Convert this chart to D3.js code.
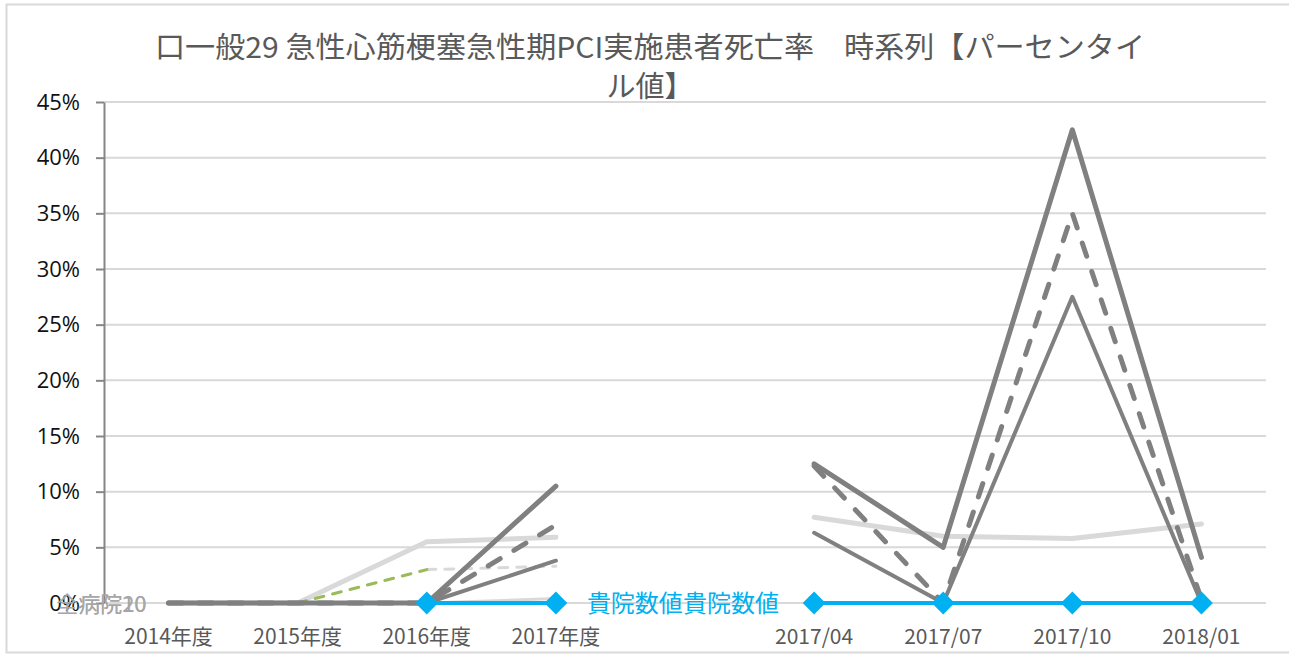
<!DOCTYPE html>
<html><head><meta charset="utf-8">
<script src="https://cdn.jsdelivr.net/npm/d3@7/dist/d3.min.js"></script>
<style>body{margin:0;background:#fff;}svg{display:block;}</style>
</head><body>
<svg id="chart" width="1289" height="655"></svg>
<script>
const titleLines = ["口一般29 急性心筋梗塞急性期PCI実施患者死亡率\u3000時系列【パーセンタイ", "ル値】"];
const categories = ["2014年度","2015年度","2016年度","2017年度","","2017/04","2017/07","2017/10","2018/01"];
const yTicks = [0,5,10,15,20,25,30,35,40,45];
// values in percent; null = no point
const allHospital = [0, 0, 5.5, 5.9, null, 7.7, 6.0, 5.8, 7.1];
const allHospitalLow = [null, null, 0, 0.4, null, null, null, null, null];
const greenDashed = [null, 0, 3.0, null, null, null, null, null, null];
const lightDashed = [null, null, 3.0, 3.3, null, null, null, null, null];
const p90 = [0, 0, 0, 10.5, null, 12.5, 5.0, 42.5, 4.1];
const p50 = [0, 0, 0, 7.0, null, 12.3, 0, 35.0, 0.3];
const p10 = [0, 0, 0, 3.8, null, 6.3, 0, 27.5, 0];
const ownHospital = [null, null, 0, 0, null, 0, 0, 0, 0];
const seriesLabels = ["全病院20", "病院10"];
const ownLabel = "貴院数値";

const svg = d3.select("#chart");
const W = 1289, H = 655;
const plot = {left: 104, right: 1266, top: 102, bottom: 603};
const jp = "'Noto Sans CJK JP','Noto Sans',sans-serif";

// outer frame
svg.append("rect").attr("x", 6.5).attr("y", 4.5).attr("width", W).attr("height", 648)
  .attr("fill", "#fff").attr("stroke", "#d9d9d9").attr("stroke-width", 2);

const x = d3.scaleBand().domain(categories.map((c,i)=>i)).range([plot.left, plot.right]);
const cx = i => x(i) + x.bandwidth()/2;
const y = d3.scaleLinear().domain([0,45]).range([plot.bottom, plot.top]);

// gridlines
svg.append("g").selectAll("line").data(yTicks).join("line")
  .attr("x1", plot.left).attr("x2", plot.right)
  .attr("y1", d=>y(d)).attr("y2", d=>y(d))
  .attr("stroke", "#d9d9d9").attr("stroke-width", 2);

// y axis
const yAxis = d3.axisLeft(y).tickValues(yTicks).tickFormat(d=>d+"%").tickSizeInner(8).tickSizeOuter(0).tickPadding(16);
const ga = svg.append("g").attr("transform", `translate(${plot.left},0)`).call(yAxis);
ga.select(".domain").attr("stroke", "#868686").attr("stroke-width", 2);
ga.selectAll(".tick line").attr("stroke", "#868686").attr("stroke-width", 2);
ga.selectAll(".tick text").attr("font-family", "'Open Sans','Noto Sans',sans-serif").attr("font-size", 22).attr("fill", "#111");

// x labels
svg.append("g").selectAll("text").data(categories).join("text")
  .attr("x", (d,i)=>cx(i)).attr("y", 644)
  .attr("text-anchor", "middle").attr("font-family", jp).attr("font-size", 21).attr("fill", "#595959")
  .text(d=>d);

const line = d3.line().defined(d=>d!==null).x((d,i)=>cx(i)).y(d=>y(d));
function drawLine(data, color, width, dash) {
  const p = svg.append("path").datum(data).attr("d", line)
    .attr("fill", "none").attr("stroke", color).attr("stroke-width", width)
    .attr("stroke-linecap", "round").attr("stroke-linejoin", "round");
  if (dash) p.attr("stroke-dasharray", dash);
}
drawLine(allHospital, "#d9d9d9", 5);
drawLine(allHospitalLow, "#d9d9d9", 3);
drawLine(lightDashed, "#d9d9d9", 3, "9,9");
drawLine(greenDashed, "#9bbb59", 3, "9,9");
drawLine(p10, "#808080", 4);
drawLine(p50, "#808080", 5, "14,16");
drawLine(p90, "#808080", 5);

// own hospital
drawLine(ownHospital, "#00b0f0", 4);
const diamond = d3.symbol().type(d3.symbolSquare).size(260);
svg.append("g").selectAll("path").data(ownHospital.map((v,i)=>({v,i})).filter(d=>d.v!==null)).join("path")
  .attr("d", diamond).attr("fill", "#00b0f0")
  .attr("transform", d=>`translate(${cx(d.i)},${y(d.v)}) rotate(45)`);

// series labels
svg.append("g").selectAll("text").data(seriesLabels).join("text")
  .attr("x", cx(0) - 22).attr("y", y(0) + 9).attr("text-anchor", "end")
  .attr("font-family", jp).attr("font-size", 22).attr("fill", "#a6a6a6").text(d=>d);
svg.append("g").selectAll("text").data([ownLabel, ownLabel]).join("text")
  .attr("x", (d,i)=> i===0 ? cx(3)+31 : cx(4)-2).attr("y", y(0) + 9)
  .attr("font-family", jp).attr("font-size", 24).attr("fill", "#00b0f0").text(d=>d);

// title
svg.append("g").selectAll("text").data(titleLines).join("text")
  .attr("x", 650).attr("y", (d,i)=> 58 + i*39).attr("text-anchor", "middle")
  .attr("font-family", jp).attr("font-size", 29).attr("fill", "#595959")
  .each(function(d,i){ if(i===0){ d3.select(this).attr("textLength", 990).attr("lengthAdjust","spacingAndGlyphs"); } })
  .text(d=>d);
</script>
</body></html>
